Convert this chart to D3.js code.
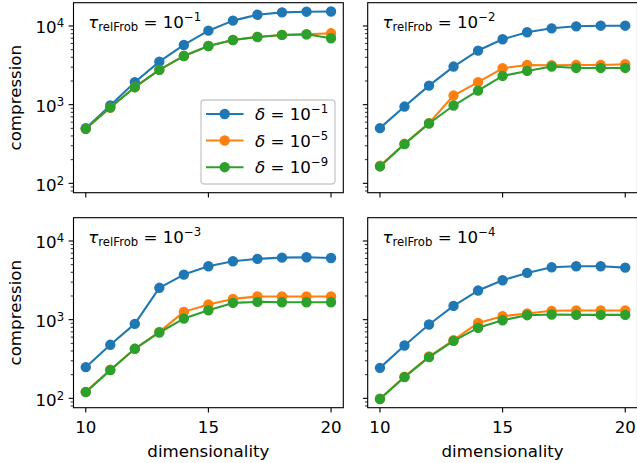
<!DOCTYPE html>
<html><head><meta charset="utf-8">
<script src="https://cdn.jsdelivr.net/npm/d3@7"></script>
<style>
html,body{margin:0;padding:0;background:#fff;}
text{font-family:"DejaVu Sans",sans-serif;fill:#000;}
</style></head>
<body><svg id="chart" width="637" height="463"></svg>
<script>
const dims = [10,11,12,13,14,15,16,17,18,19,20];
const seriesNames = ["−1","−5","−9"];
const colors = ["#1f77b4","#ff7f0e","#2ca02c"];
const tauExponents = ["−1","−2","−3","−4"];

// panel tau=1e-1
const p1_d1 = [503,975,1930,3520,5740,8720,11700,13900,14900,15200,15300];
const p1_d5 = [493,918,1667,2770,4160,5570,6640,7250,7700,7850,8070];
const p1_d9 = [493,918,1667,2770,4160,5570,6640,7250,7700,7830,6980];
// panel tau=1e-2
const p2_d1 = [503,946,1747,3050,4870,6780,8320,9340,9900,10090,10090];
const p2_d5 = [167,318,582,1305,1930,2900,3200,3170,3200,3200,3270];
const p2_d9 = [164,315,576,975,1510,2318,2684,3050,2930,2930,2930];
// panel tau=1e-3
const p3_d1 = [249,479,885,2540,3740,4770,5520,5920,6140,6210,6080];
const p3_d5 = [121,231,426,700,1256,1556,1836,1968,1968,1968,1968];
const p3_d9 = [120,228,426,687,1033,1318,1633,1682,1665,1665,1665];
// panel tau=1e-4
const p4_d1 = [244,470,867,1496,2344,3170,3930,4630,4770,4770,4590];
const p4_d5 = [99,188,340,548,910,1105,1196,1295,1306,1306,1306];
const p4_d9 = [98,186,334,538,787,984,1140,1162,1150,1150,1150];

const panelsData = [[p1_d1,p1_d5,p1_d9],[p2_d1,p2_d5,p2_d9],[p3_d1,p3_d5,p3_d9],[p4_d1,p4_d5,p4_d9]];
const xTicks = [10,15,20];
const yTicks = [100,1000,10000];
const yTickExp = ["2","3","4"];

const svg = d3.select("#chart");
const PT = 100/72;
const FS = 12*PT;
const MR = 4.5;
const cols = [[73.5,343.3],[367.7,637.5]];
const rows = [[2.7,192.7],[217.7,407.7]];

panelsData.forEach((series, i) => {
  const r = Math.floor(i/2), c = i%2;
  const [x0,x1] = cols[c], [y0,y1] = rows[r];
  const x = d3.scaleLinear().domain([9.5,20.5]).range([x0,x1]);
  const y = d3.scaleLog().domain([Math.pow(10,1.881), Math.pow(10,4.296)]).range([y1,y0]);
  const g = svg.append("g");

  // minor ticks
  const minor = [];
  for (let e=1;e<=4;e++) for (let m=2;m<=9;m++){ const v=m*Math.pow(10,e); if (v>=y.domain()[0] && v<=y.domain()[1]) minor.push(v); }
  g.selectAll(".mn").data(minor).enter().append("line")
    .attr("x1",x0).attr("x2",x0-2*PT).attr("y1",d=>y(d)).attr("y2",d=>y(d))
    .attr("stroke","#000").attr("stroke-width",0.6*PT);
  g.selectAll(".mj").data(yTicks).enter().append("line")
    .attr("x1",x0).attr("x2",x0-3.5*PT).attr("y1",d=>y(d)).attr("y2",d=>y(d))
    .attr("stroke","#000").attr("stroke-width",0.8*PT);
  g.selectAll(".xt").data(xTicks).enter().append("line")
    .attr("x1",d=>x(d)).attr("x2",d=>x(d)).attr("y1",y1).attr("y2",y1+3.5*PT)
    .attr("stroke","#000").attr("stroke-width",0.8*PT);

  if (c===0) {
    yTicks.forEach((v,k) => {
      const t = g.append("text").attr("x", x0-7*PT+0.3).attr("y", y(v)+7.3)
        .attr("text-anchor","end").attr("font-size",FS);
      t.append("tspan").text("10");
      t.append("tspan").attr("font-size",FS*0.7).attr("dy",-6).text(yTickExp[k]);
    });
    g.append("text").attr("transform",`translate(20.5,${(y0+y1)/2}) rotate(-90)`)
      .attr("text-anchor","middle").attr("font-size",FS).text("compression");
  }
  if (r===1) {
    xTicks.forEach(v => {
      g.append("text").attr("x",x(v)).attr("y",433).attr("text-anchor","middle")
        .attr("font-size",FS).text(String(v));
    });
    g.append("text").attr("x",(x0+x1)/2).attr("y",456.5).attr("text-anchor","middle")
      .attr("font-size",FS).text("dimensionality");
  }

  const line = d3.line().x((d,k)=>x(dims[k])).y(d=>y(d));
  series.forEach((vals,s) => {
    g.append("path").attr("d",line(vals)).attr("fill","none")
      .attr("stroke",colors[s]).attr("stroke-width",1.5*PT).attr("stroke-linejoin","round");
    g.selectAll(".m"+s).data(vals).enter().append("circle")
      .attr("cx",(d,k)=>x(dims[k])).attr("cy",d=>y(d)).attr("r",MR)
      .attr("fill",colors[s]).attr("stroke",colors[s]).attr("stroke-width",1*PT);
  });

  // spines
  g.append("rect").attr("x",x0).attr("y",y0).attr("width",x1-x0).attr("height",y1-y0)
    .attr("fill","none").attr("stroke","#000").attr("stroke-width",0.8*PT);

  // title
  const tt = g.append("text").attr("x",x0+14.8).attr("y",y0+25.3).attr("font-size",FS);
  tt.append("tspan").attr("font-style","italic").text("τ");
  tt.append("tspan").attr("font-size",FS*0.7).attr("dy",2.5).text("relFrob");
  tt.append("tspan").attr("dy",-2.5).text(" = 10");
  tt.append("tspan").attr("font-size",FS*0.7).attr("dy",-7).text(tauExponents[i]);

  if (i===0) {
    const lg = g.append("g");
    lg.append("rect").attr("x",201).attr("y",100).attr("width",134).attr("height",84)
      .attr("rx",3).attr("fill","#fff").attr("fill-opacity",0.8)
      .attr("stroke","#cccccc").attr("stroke-width",1*PT);
    const ys = [114,140.5,167.2];
    seriesNames.forEach((nm,s) => {
      lg.append("line").attr("x1",206).attr("x2",243.5).attr("y1",ys[s]).attr("y2",ys[s])
        .attr("stroke",colors[s]).attr("stroke-width",1.5*PT);
      lg.append("circle").attr("cx",224.7).attr("cy",ys[s]).attr("r",MR)
        .attr("fill",colors[s]).attr("stroke",colors[s]).attr("stroke-width",1*PT);
      const t = lg.append("text").attr("x",255).attr("y",ys[s]+6).attr("font-size",FS);
      t.append("tspan").attr("font-style","italic").text("δ");
      t.append("tspan").text(" = 10");
      t.append("tspan").attr("font-size",FS*0.7).attr("dy",-7).text(nm);
    });
  }
});
</script></body></html>
